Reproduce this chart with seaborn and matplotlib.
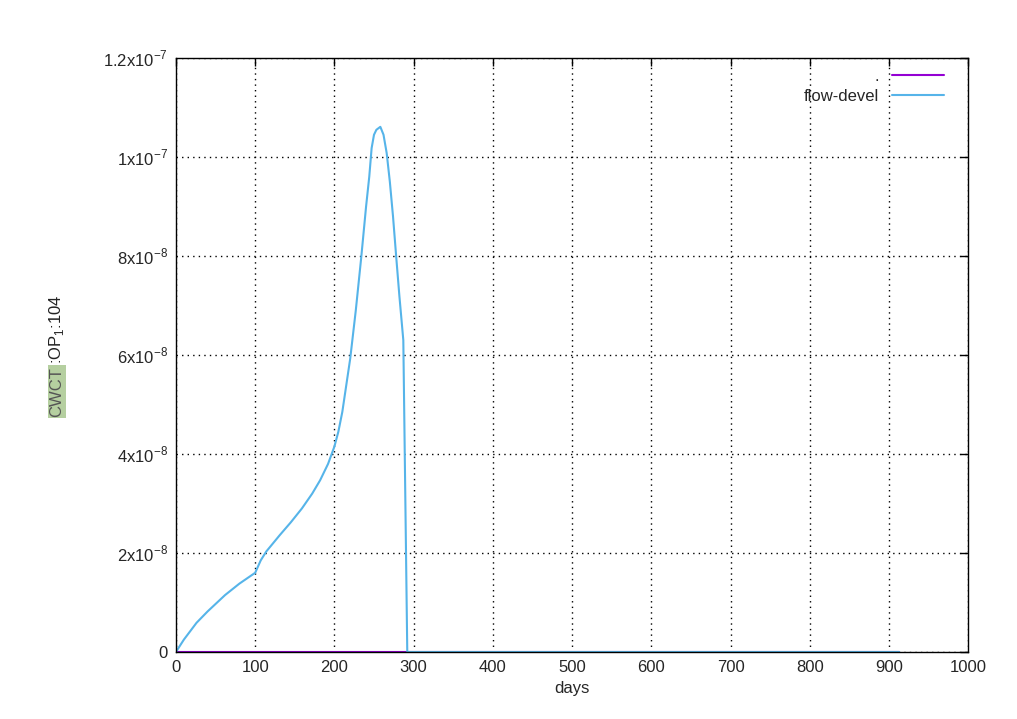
import numpy as np
import pandas as pd
import seaborn as sns
import matplotlib.pyplot as plt

# series values (days, value)
days_ref = [0, 913]
vals_ref = [0.0, 0.0]

days_dev = [0, 10, 26, 40, 62, 80, 100, 107, 114, 131, 145, 159, 172, 182, 192, 200,
            205, 210, 220, 227, 234, 240, 244, 247, 250, 253, 258, 262, 266, 270, 274, 278,
            282, 287, 292, 300, 913]
vals_dev = [0.0, 0.25, 0.59, 0.82, 1.15, 1.38, 1.6, 1.85, 2.03, 2.36, 2.62, 2.9, 3.2, 3.47,
            3.8, 4.15, 4.45, 4.85, 5.93, 6.9, 7.99, 9.0, 9.6, 10.18, 10.45, 10.55, 10.61, 10.45,
            10.08, 9.5, 8.8, 7.99, 7.2, 6.3, 0.0, 0.0, 0.0]
vals_dev = [v * 1e-8 for v in vals_dev]

series_labels = ['.', 'flow-devel']
yticks = [0, 2e-8, 4e-8, 6e-8, 8e-8, 1e-7, 1.2e-7]
ytick_labels = ['0', r'2x10$^{-8}$', r'4x10$^{-8}$', r'6x10$^{-8}$', r'8x10$^{-8}$',
                r'1x10$^{-7}$', r'1.2x10$^{-7}$']
xticks = list(range(0, 1001, 100))

df = pd.concat([
    pd.DataFrame({'days': days_ref, 'value': vals_ref, 'run': series_labels[0]}),
    pd.DataFrame({'days': days_dev, 'value': vals_dev, 'run': series_labels[1]}),
])

sns.set_style('white')
plt.rcParams['font.family'] = ['Liberation Sans', 'DejaVu Sans']
plt.rcParams['mathtext.fontset'] = 'custom'
plt.rcParams['mathtext.rm'] = 'Liberation Sans'

fig = plt.figure(figsize=(10.17, 7.19), dpi=100)
ax = fig.add_axes([0.173, 0.0932, 0.779, 0.8261])

sns.lineplot(data=df, x='days', y='value', hue='run', hue_order=series_labels,
             palette=['#9400D3', '#56B4E9'], linewidth=1.5, ax=ax, sort=False,
             estimator=None)

ax.set_xlim(0, 1000)
ax.set_ylim(0, 1.2e-7)
ax.set_xticks(xticks)
ax.set_xticklabels([str(t) for t in xticks], fontsize=12)
ax.set_yticks(yticks)
ax.set_yticklabels(ytick_labels, fontsize=12)
ax.tick_params(direction='in', length=6, width=1, top=True, right=True, color='black', pad=6)
ax.grid(True, linestyle=(0, (1, 3)), color='black', linewidth=1)
for s in ax.spines.values():
    s.set_color('black')
    s.set_linewidth(1)

ax.set_xlabel('days', fontsize=12)
ax.set_ylabel('')

# y label with highlighted part
fig.text(0.056, 0.455, 'CWCT', rotation=90, fontsize=12, color='#555555', ha='center', va='center',
         bbox=dict(boxstyle='square,pad=0.1', facecolor='#b5cfa0', edgecolor='none'))
fig.text(0.056, 0.494, ':OP$_1$:104', rotation=90, fontsize=12, color='#222222', ha='center', va='bottom')

leg = ax.legend(loc='upper right', frameon=False, markerfirst=False, fontsize=12,
                handlelength=3.1, bbox_to_anchor=(0.988, 1.007), labelspacing=0.3)

plt.savefig('out.png', dpi=100)
plt.close()
